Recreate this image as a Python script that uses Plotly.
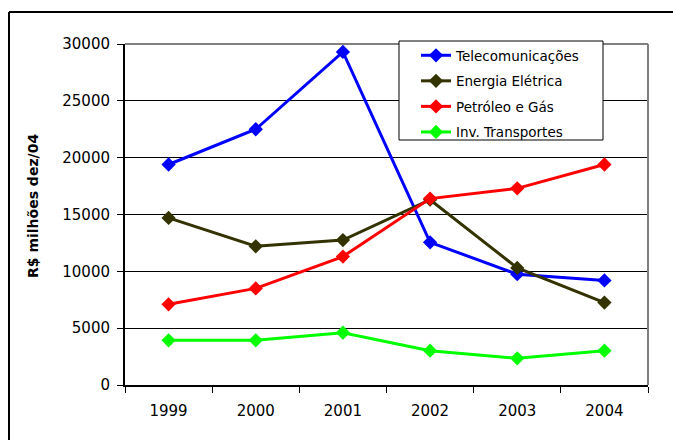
import plotly.graph_objects as go

years = ["1999", "2000", "2001", "2002", "2003", "2004"]
telecom = [19400, 22500, 29300, 12550, 9750, 9200]
energia = [14700, 12200, 12750, 16300, 10300, 7250]
petroleo = [7100, 8500, 11300, 16400, 17300, 19400]
transportes = [3930, 3930, 4600, 3020, 2350, 3020]
y_ticks = [0, 5000, 10000, 15000, 20000, 25000, 30000]

series = [
    ("Telecomunicações", telecom, "#0000FF"),
    ("Energia Elétrica", energia, "#333300"),
    ("Petróleo e Gás", petroleo, "#FF0000"),
    ("Inv. Transportes", transportes, "#00FF00"),
]

W, H = 673, 440
L, R, T, B = 125, 25, 44, 55
PW, PH = W - L - R, H - T - B


def px(x):
    return (x - L) / PW


def py(y):
    return (H - B - y) / PH


fig = go.Figure()
for i, (name, vals, col) in enumerate(series):
    fig.add_trace(go.Scatter(
        x=years, y=vals, name=name, mode="lines+markers",
        legendgroup=f"g{i}",
        line=dict(color=col, width=3),
        marker=dict(symbol="diamond", size=11, color=col),
    ))

font = "DejaVu Sans"
fig.update_layout(
    width=W, height=H,
    margin=dict(l=L, r=R, t=T, b=B, pad=0),
    paper_bgcolor="white", plot_bgcolor="white",
    font=dict(family=font, size=15, color="black"),
    showlegend=True,
    legend=dict(
        x=px(416), y=py(40), xanchor="left", yanchor="top",
        bgcolor="rgba(0,0,0,0)", borderwidth=0,
        font=dict(family=font, size=13.5, color="black"),
        tracegroupgap=5,
    ),
    xaxis=dict(
        type="category", range=[-0.5, 5.5],
        showline=True, linecolor="black", linewidth=2,
        ticks="outside", ticklen=6, tickcolor="black", tickwidth=1,
        tickson="boundaries", showgrid=False,
        tickfont=dict(family=font, size=15, color="black"),
        ticklabelstandoff=11,
    ),
    yaxis=dict(
        range=[0, 30000], tickvals=y_ticks,
        ticktext=[str(v) for v in y_ticks],
        showline=True, linecolor="black", linewidth=2,
        ticks="outside", ticklen=6, tickcolor="black", tickwidth=1,
        showgrid=True, gridcolor="black", gridwidth=1,
        zeroline=False,
        tickfont=dict(family=font, size=15, color="black"),
        ticklabelstandoff=4,
    ),
    annotations=[dict(
        text="<b>R$ milhões dez/04</b>", xref="paper", yref="paper",
        x=px(33), y=py(206), xanchor="center", yanchor="middle",
        textangle=-90, showarrow=False,
        font=dict(family=font, size=14, color="black"),
    )],
    shapes=[
        dict(type="line", xref="paper", yref="paper",
             x0=px(9), x1=px(W), y0=py(12), y1=py(12),
             line=dict(color="black", width=2), layer="above"),
        dict(type="line", xref="paper", yref="paper",
             x0=px(9), x1=px(9), y0=py(12), y1=py(H),
             line=dict(color="black", width=2), layer="above"),
        dict(type="line", xref="paper", yref="paper",
             x0=px(125), x1=px(648), y0=py(44), y1=py(44),
             line=dict(color="#808080", width=2), layer="above"),
        dict(type="line", xref="paper", yref="paper",
             x0=px(648), x1=px(648), y0=py(44), y1=py(385),
             line=dict(color="#808080", width=2), layer="above"),
        dict(type="rect", xref="paper", yref="paper",
             x0=px(399), x1=px(603), y0=py(140), y1=py(41),
             fillcolor="white", line=dict(color="black", width=1),
             layer="above"),
    ],
)

fig.write_html(
    "out.html",
    config={"displayModeBar": False},
    post_script="document.body.style.margin='0';document.body.style.overflow='hidden';",
)
